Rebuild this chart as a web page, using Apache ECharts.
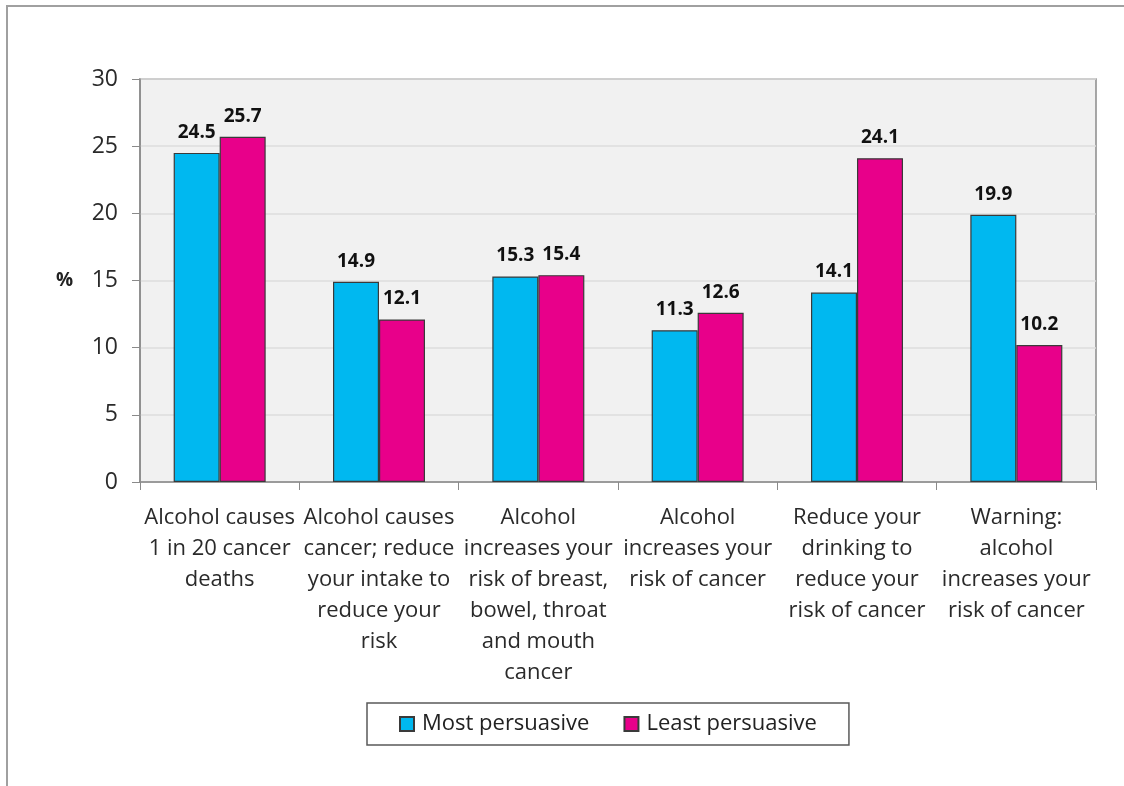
<!DOCTYPE html>
<html>
<head>
<meta charset="utf-8">
<script src="https://cdn.jsdelivr.net/npm/echarts@6/dist/echarts.min.js"></script>
<style>
  html, body { margin: 0; padding: 0; background: #fff; }
  #chart { width: 1124px; height: 786px; }
</style>
</head>
<body>
<div id="chart"></div>
<script>
// messages tested (wrapped as in the original)
const categories = [
  'Alcohol causes\n1 in 20 cancer\ndeaths',
  'Alcohol causes\ncancer; reduce\nyour intake to\nreduce your\nrisk',
  'Alcohol\nincreases your\nrisk of breast,\nbowel, throat\nand mouth\ncancer',
  'Alcohol\nincreases your\nrisk of cancer',
  'Reduce your\ndrinking to\nreduce your\nrisk of cancer',
  'Warning:\nalcohol\nincreases your\nrisk of cancer'
];
const mostPersuasive = [24.5, 14.9, 15.3, 11.3, 14.1, 19.9];
const leastPersuasive = [25.7, 12.1, 15.4, 12.6, 24.1, 10.2];

const font = '"Open Sans", sans-serif';
const chart = echarts.init(document.getElementById('chart'));

const barLabel = {
  show: true,
  position: 'top',
  distance: 11,
  color: '#111',
  fontFamily: font,
  fontWeight: 'bold',
  fontSize: 19
};

chart.setOption({
  animation: false,
  textStyle: { fontFamily: font },
  graphic: [{
    type: 'rect',
    shape: { x: 7, y: 6, width: 1130, height: 800 },
    style: { fill: 'none', stroke: '#a0a0a0', lineWidth: 2 },
    silent: true
  }],
  grid: {
    left: 140, right: 28, top: 79, bottom: 304,
    show: true,
    backgroundColor: '#f1f1f1',
    borderColor: '#8a8a8a',
    borderWidth: 1.5
  },
  legend: {
    left: 367,
    top: 703,
    padding: [10, 32],
    itemGap: 34,
    itemWidth: 14,
    itemHeight: 14,
    icon: 'rect',
    borderColor: '#5a5a5a',
    borderWidth: 1.5,
    textStyle: { fontFamily: font, fontSize: 22, color: '#222', padding: [0, 0, 0, 3] },
    data: ['Most persuasive', 'Least persuasive']
  },
  xAxis: {
    type: 'category',
    data: categories,
    axisLine: { lineStyle: { color: '#8a8a8a', width: 1.5 } },
    axisTick: { show: true, length: 8, lineStyle: { color: '#8a8a8a' } },
    axisLabel: {
      interval: 0,
      margin: 20,
      color: '#2a2a2a',
      fontFamily: font,
      fontSize: 22,
      lineHeight: 31
    }
  },
  yAxis: {
    type: 'value',
    min: 0,
    max: 30,
    interval: 5,
    name: '%',
    nameLocation: 'middle',
    nameRotate: 0,
    nameGap: 67,
    nameTextStyle: { fontFamily: font, fontWeight: 'bold', fontSize: 19, color: '#222', padding: [8, 0, 0, 0] },
    axisLine: { show: true, lineStyle: { color: '#8a8a8a', width: 1.5 } },
    axisTick: { show: true, length: 8, lineStyle: { color: '#8a8a8a' } },
    axisLabel: { margin: 22, color: '#2a2a2a', fontFamily: font, fontSize: 23 },
    splitLine: { lineStyle: { color: '#dcdcdc', width: 1.5 } }
  },
  series: [
    {
      name: 'Most persuasive',
      type: 'bar',
      data: mostPersuasive,
      barWidth: 46,
      barGap: '0%',
      itemStyle: { color: '#00b8f0', borderColor: '#3a3a3a', borderWidth: 1.2 },
      label: barLabel
    },
    {
      name: 'Least persuasive',
      type: 'bar',
      data: leastPersuasive,
      barWidth: 46,
      barGap: '0%',
      itemStyle: { color: '#e8008a', borderColor: '#3a3a3a', borderWidth: 1.2 },
      label: barLabel
    }
  ]
});
</script>
</body>
</html>
